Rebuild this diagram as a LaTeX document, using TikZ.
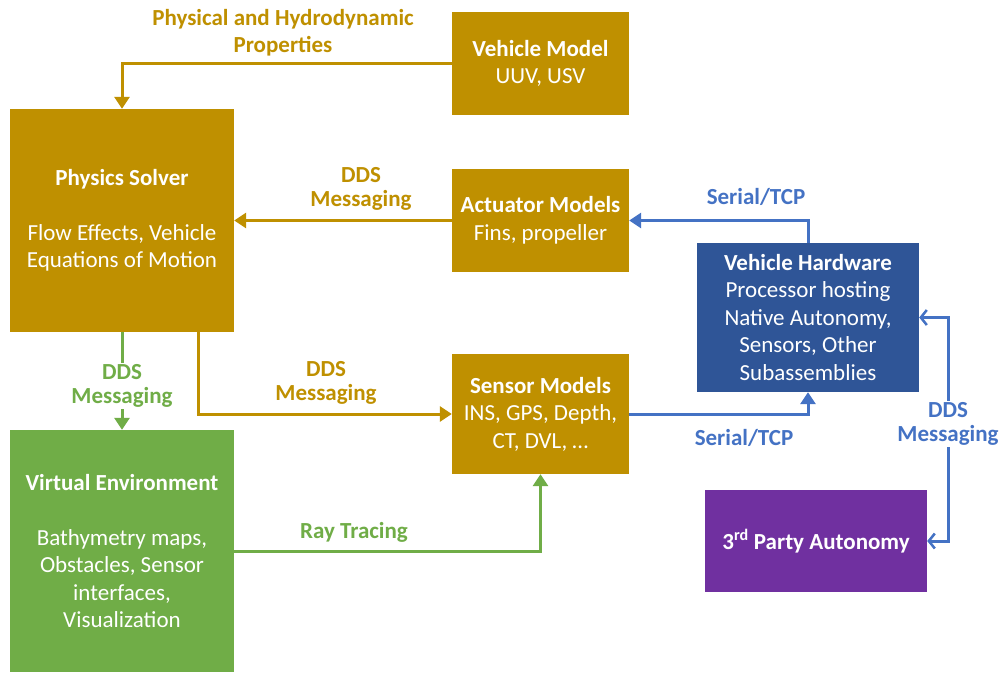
\documentclass[tikz,border=0pt]{standalone}
\usepackage{fontspec}
\setmainfont{Carlito}
\usetikzlibrary{arrows.meta}

\definecolor{gold}{HTML}{BF9000}
\definecolor{leaf}{HTML}{70AD47}
\definecolor{navy}{HTML}{2F5597}
\definecolor{sky}{HTML}{4472C4}
\definecolor{plum}{HTML}{7030A0}

\tikzset{
  block/.style={inner sep=0pt,text=white,align=center,font=\fontsize{23}{27.5}\selectfont},
  tag/.style={inner sep=2pt,align=center,font=\fontsize{23}{23.5}\selectfont\bfseries},
  link/.style={line width=3pt,-{Triangle[length=12pt,width=15pt]}},
  both/.style={line width=3pt,{Straight Barb[length=6pt,width=15pt,line width=2.5pt]}-{Straight Barb[length=6pt,width=15pt,line width=2.5pt]}}
}

\begin{document}
\begin{tikzpicture}[x=1pt,y=-1pt]
\useasboundingbox[fill=white] (0,0) rectangle (1001,672);

% blocks
\node[block,fill=gold,minimum width=177pt,minimum height=103pt] (vm) at (540.5,63.5)
  {\textbf{Vehicle Model}\\UUV, USV};
\node[block,fill=gold,minimum width=224pt,minimum height=223pt] (ps) at (122,220.5)
  {\textbf{Physics Solver}\\[27.5pt]Flow Effects, Vehicle\\Equations of Motion};
\node[block,fill=gold,minimum width=177pt,minimum height=103pt] (am) at (540.5,220.5)
  {\textbf{Actuator Models}\\Fins, propeller};
\node[block,fill=gold,minimum width=177pt,minimum height=120pt] (sm) at (540.5,414)
  {\textbf{Sensor Models}\\INS, GPS, Depth,\\CT, DVL, \dots};
\node[block,fill=navy,minimum width=222pt,minimum height=149pt] (hw) at (808,317.5)
  {\textbf{Vehicle Hardware}\\Processor hosting\\Native Autonomy,\\Sensors, Other\\Subassemblies};
\node[block,fill=plum,minimum width=222pt,minimum height=102pt] (tp) at (816,541)
  {\textbf{3\textsuperscript{rd} Party Autonomy}};
\node[block,fill=leaf,minimum width=224pt,minimum height=242pt] (ve) at (122,551)
  {\textbf{Virtual Environment}\\[27.5pt]Bathymetry maps,\\Obstacles, Sensor\\interfaces,\\Visualization};

\coordinate (side) at (948,0);

% gold links
\draw[link,gold] (vm.west) -| (ps.north);
\node[tag,text=gold,font=\fontsize{23}{27}\selectfont\bfseries] (lprop) at (283,33) {Physical and Hydrodynamic\\Properties};
\draw[link,gold] (am.west) -- (am.west -| ps.east);
\node[tag,text=gold] (ldds1) at (361,189) {DDS\\Messaging};
\draw[link,gold] ([xshift=76pt]ps.south) |- (sm.west);
\node[tag,text=gold] (ldds2) at (326,383) {DDS\\Messaging};

% green links
\draw[link,leaf] (ps.south) -- (ve.north)
  node[tag,midway,yshift=-5pt,fill=white,text=leaf] (ldds3) {DDS\\Messaging};
\draw[link,leaf] (ve.east) -| (sm.south);
\node[tag,text=leaf] (lray) at (354,532) {Ray Tracing};

% blue links
\draw[link,sky] (hw.north) |- (am.east);
\node[tag,text=sky] (lser1) at (756,197) {Serial/TCP};
\draw[link,sky] (sm.east) -| (hw.south);
\node[tag,text=sky] (lser2) at (744,438) {Serial/TCP};
\draw[both,sky] (hw.east) -- (hw.east -| side) -- (tp.east -| side) -- (tp.east);
\node[tag,fill=white,text=sky] (ldds4) at (948,424) {DDS\\Messaging};
\end{tikzpicture}
\end{document}
